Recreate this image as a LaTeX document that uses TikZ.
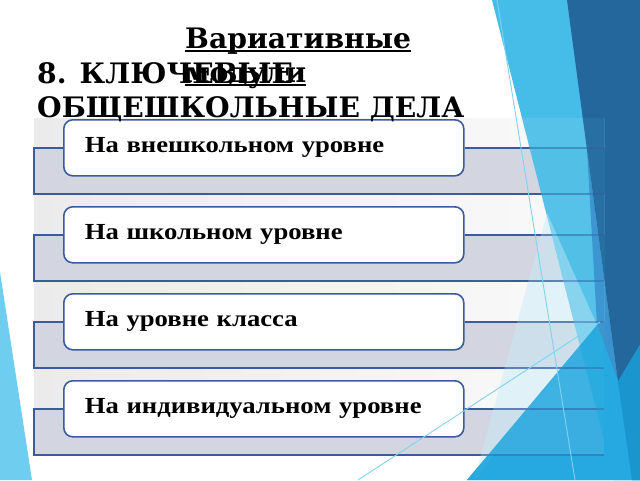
\documentclass[tikz,border=0pt]{standalone}
\usepackage{fontspec}
\setmainfont{DejaVu Serif}
\newfontfamily\titlefont{DejaVu Serif}
\newfontfamily\boxfont[FakeStretch=1.16]{Liberation Serif}
\definecolor{bandgray}{HTML}{D3D6E0}
\definecolor{lightgrayA}{HTML}{EBEBEB}
\definecolor{lightgrayB}{HTML}{FAFAFA}
\definecolor{lineblue}{HTML}{3A5C9C}
\definecolor{cyanA}{HTML}{45BDE8}
\definecolor{midM}{HTML}{3A93CE}
\definecolor{darkB}{HTML}{23679C}
\definecolor{brightT}{HTML}{25A9E0}
\definecolor{deepT}{HTML}{1B93CC}
\definecolor{paleW}{HTML}{C5EAF8}
\definecolor{leftcyan}{HTML}{6FCDEF}
\definecolor{thinline}{HTML}{7FD3F1}
\newcommand\mydecoback{%
  \fill[cyanA] (492,0) -- (640,0) -- (640,480) -- (614,480) -- cycle;
  \fill[midM] (587,150) -- (597,325) -- (618,382) -- cycle;
  \fill[darkB] (567,0) -- (640,0) -- (640,345) -- (618,382) -- cycle;
}
\newcommand\mydecofront{%
  \fill[brightT] (467,480) -- (597,325) -- (618,382) -- (640,345) -- (640,480) -- cycle;
  \fill[deepT] (618,382) -- (640,345) -- (640,480) -- (632,480) -- cycle;
}
\begin{document}
\begin{tikzpicture}[x=1pt,y=-1pt,
  titletext/.style={font=\titlefont\bfseries\fontsize{28.2}{31}\selectfont, text=black, inner sep=0pt, anchor=base west},
  ulline/.style={line width=1.8pt, black},
  lightrow/.style={left color=lightgrayA, right color=lightgrayB, draw=none},
  bandrow/.style={fill=bandgray, draw=none},
  panelline/.style={draw=lineblue, line width=1.4pt},
  rowbox/.style={draw=lineblue, line width=1.6pt, fill=white, rounded corners=9pt,
    minimum height=56pt, text width=358pt, align=left, inner xsep=21pt, inner ysep=0pt,
    anchor=north west, font=\boxfont\bfseries\fontsize{23}{25}\selectfont, text=black},
  thin/.style={draw=thinline, line width=0.9pt}]
\useasboundingbox (0,0) rectangle (640,480);
\fill[white] (0,0) rectangle (640,480);
\fill[leftcyan] (0,272) -- (32,480) -- (0,480) -- cycle;
\mydecoback
\mydecofront
\coordinate (R) at (604,0);
\coordinate (D) at (467,0);
% panel fills
\shade[lightrow] (34,118) rectangle (604,147);
\fill[bandrow] (34,147) rectangle (604,194);
\shade[lightrow] (34,194) rectangle (604,234);
\fill[bandrow] (34,234) rectangle (604,281);
\shade[lightrow] (34,281) rectangle (604,321);
\fill[bandrow] (34,321) rectangle (604,368);
\shade[lightrow] (34,368) rectangle (604,408);
\fill[bandrow] (34,408) rectangle (604,455);
% boxes
\node[rowbox] (b0) at (63,119) {На внешкольном уровне};
\node[rowbox] (b1) at (63,206) {На школьном уровне};
\node[rowbox] (b2) at (63,293) {На уровне класса};
\node[rowbox] (b3) at (63,380) {На индивидуальном уровне};
% panel lines
\coordinate (e0) at (604,194);
\coordinate (e1) at (604,281);
\coordinate (e2) at (604,368);
\coordinate (e3) at (604,455);
\foreach \i in {0,1,2,3}{
  \draw[panelline] (b\i.west) -| (34,0 |- e\i) -- (e\i);
  \draw[panelline] (b\i.east) -- (b\i.east -| R);
}
% decoration over panel
\begin{scope}
  \clip (34,118) rectangle (604,456);
  \begin{scope}[opacity=0.9]
    \mydecoback
  \end{scope}
\end{scope}
\fill[paleW, opacity=0.45] (547,213) -- (597,325) -- (474,480) -- cycle;
\begin{scope}[opacity=0.88]
  \mydecofront
\end{scope}
\begin{scope}[opacity=0.4]
\foreach \i in {0,1,2,3}{
  \draw[panelline] (b\i.east) -- (b\i.east -| R);
  \draw[panelline] (e\i -| D) -- (e\i);
}
\end{scope}
% thin lines
\coordinate (l1a) at (497,0);
\coordinate (l1b) at (575,480);
\coordinate (l2a) at (358,480);
\coordinate (l2b) at (600,322);
\draw[thin] (l1a) -- (l1b);
\draw[thin] (l2a) -- (l2b);
% titles
\node[titletext] (v1) at (185,48) {Вариативные};
\draw[ulline] ([yshift=-3pt]v1.base west) -- ([yshift=-3pt]v1.base east);
\node[titletext] (k1) at (37,83) {8. КЛЮЧЕВЫЕ};
\node[titletext] (v2) at (185,82) {модули};
\draw[ulline] ([yshift=-3pt]v2.base west) -- ([yshift=-3pt]v2.base east);
\node[titletext] (k2) at (37,117) {ОБЩЕШКОЛЬНЫЕ ДЕЛА};
\end{tikzpicture}
\end{document}
